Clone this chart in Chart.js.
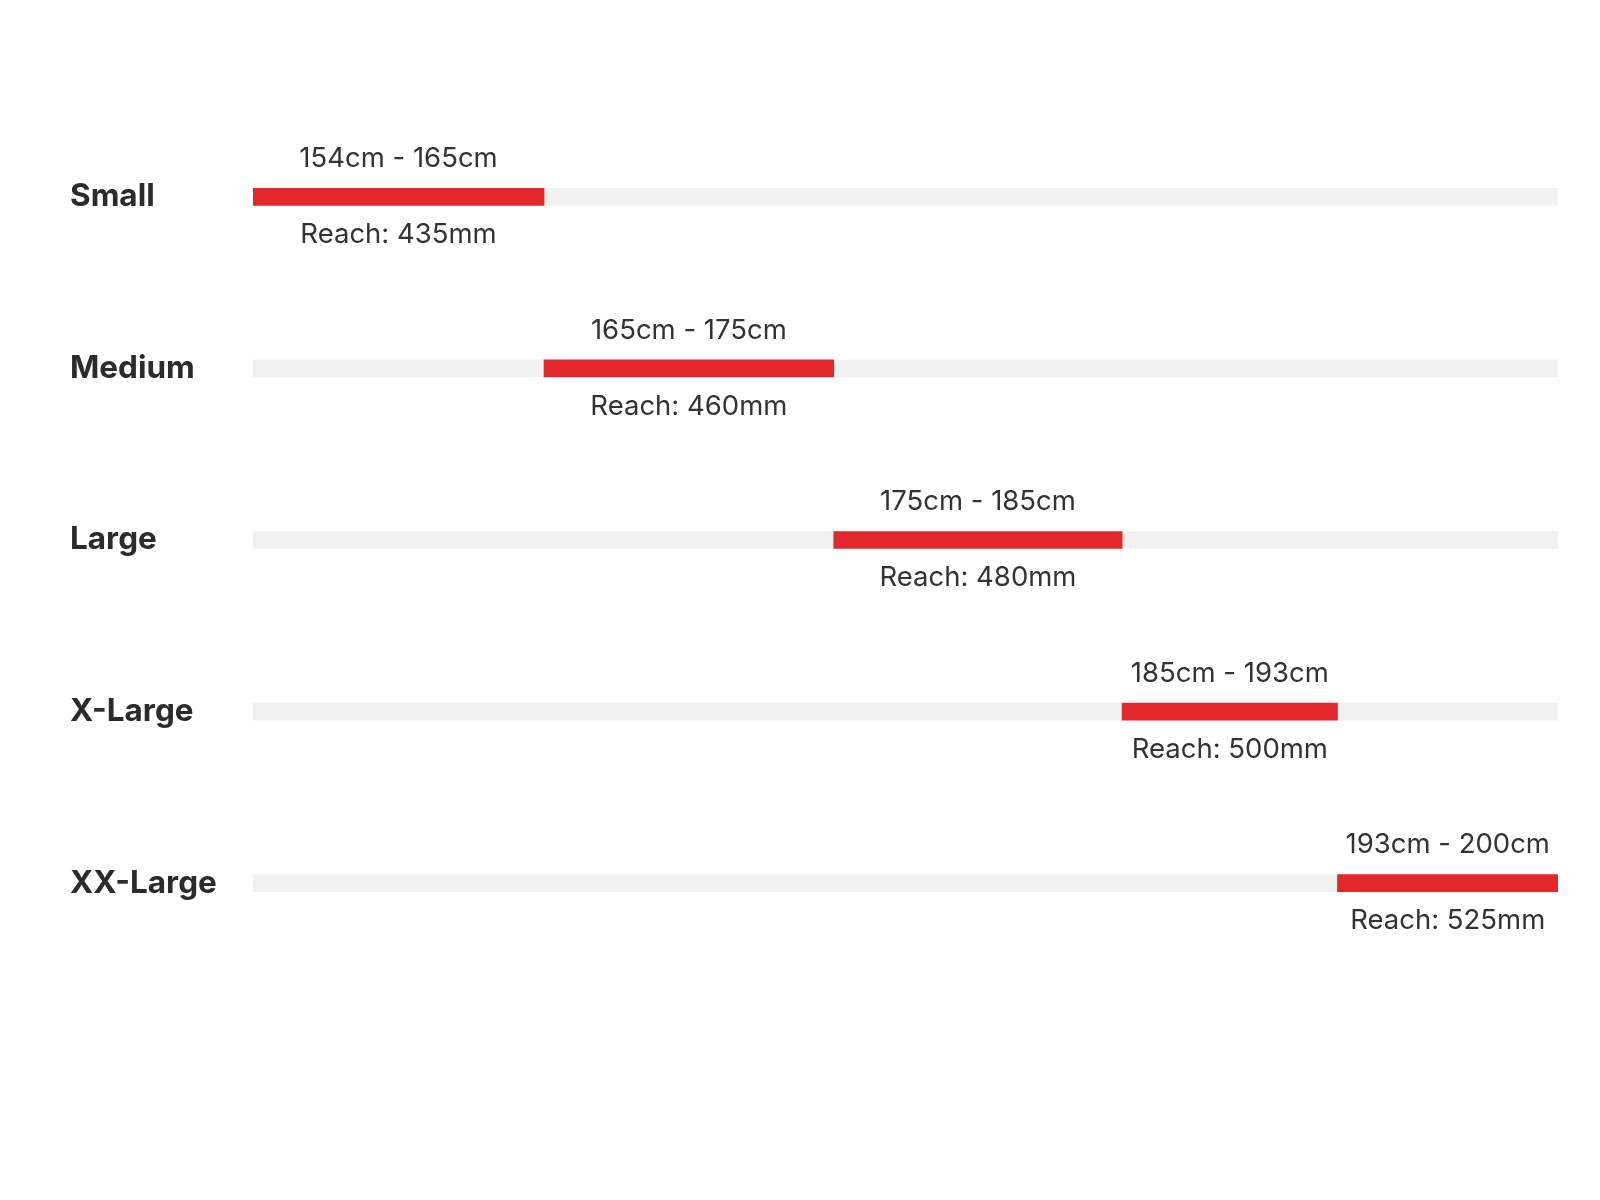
<!DOCTYPE html>
<html>
<head>
<meta charset="utf-8">
<script src="https://cdn.jsdelivr.net/npm/chart.js@4"></script>
<style>
  html, body { margin: 0; padding: 0; background: #fff; }
  #wrap { width: 1600px; height: 1200px; position: relative; }
</style>
</head>
<body>
<div id="wrap"><canvas id="sizeChart" width="1600" height="1200"></canvas></div>
<script>
// Size chart data
const sizes = ['Small', 'Medium', 'Large', 'X-Large', 'XX-Large'];
const heightRanges = ['154cm - 165cm', '165cm - 175cm', '175cm - 185cm', '185cm - 193cm', '193cm - 200cm'];
const reachMm = [435, 460, 480, 500, 525];
// where each red segment sits on the grey track (percent of track length)
const segStart = [0, 22.3, 44.5, 66.6, 83.1];
const segEnd = [22.3, 44.5, 66.6, 83.1, 100];
const trackMin = 0;
const trackMax = 100;

const textColor = '#333333';
const red = '#e3282c';
const trackGrey = '#f1f1f1';

// Labels above / below the red segments
const segmentLabels = {
    id: 'segmentLabels',
    afterDatasetsDraw(chart) {
        const ctx = chart.ctx;
        const meta = chart.getDatasetMeta(0);
        ctx.save();
        ctx.fillStyle = textColor;
        ctx.font = "27.5px Inter, 'Open Sans', sans-serif";
        ctx.textAlign = 'center';
        ctx.textBaseline = 'middle';
        meta.data.forEach((bar, i) => {
            const cx = (bar.x + bar.base) / 2;
            ctx.fillText(heightRanges[i], cx, bar.y - 38);
            ctx.fillText('Reach: ' + reachMm[i] + 'mm', cx, bar.y + 38);
        });
        ctx.restore();
    }
};

const ctx = document.getElementById('sizeChart').getContext('2d');
const sizeChart = new Chart(ctx, {
    type: 'bar',
    data: {
        labels: sizes,
        datasets: [{
            label: 'Rider height',
            data: sizes.map((s, i) => [segStart[i], segEnd[i]]),
            backgroundColor: red,
            barThickness: 17,
            grouped: false,
            order: 0
        }, {
            label: 'Track',
            data: sizes.map(() => [trackMin, trackMax]),
            backgroundColor: trackGrey,
            barThickness: 17,
            grouped: false,
            order: 1
        }]
    },
    options: {
        indexAxis: 'y',
        responsive: false,
        animation: false,
        layout: {
            padding: { left: 70, right: 42, top: 111, bottom: 231 }
        },
        plugins: {
            legend: { display: false },
            tooltip: { enabled: false }
        },
        scales: {
            x: {
                min: trackMin,
                max: trackMax,
                display: false
            },
            y: {
                border: { display: false },
                grid: { display: false },
                afterFit(scale) { scale.width = 183; },
                ticks: {
                    crossAlign: 'far',
                    padding: 0,
                    color: '#2b2b2b',
                    font: { family: "Inter, 'Open Sans', sans-serif", size: 31.5, weight: 'bold' }
                }
            }
        }
    },
    plugins: [segmentLabels]
});
</script>
</body>
</html>
